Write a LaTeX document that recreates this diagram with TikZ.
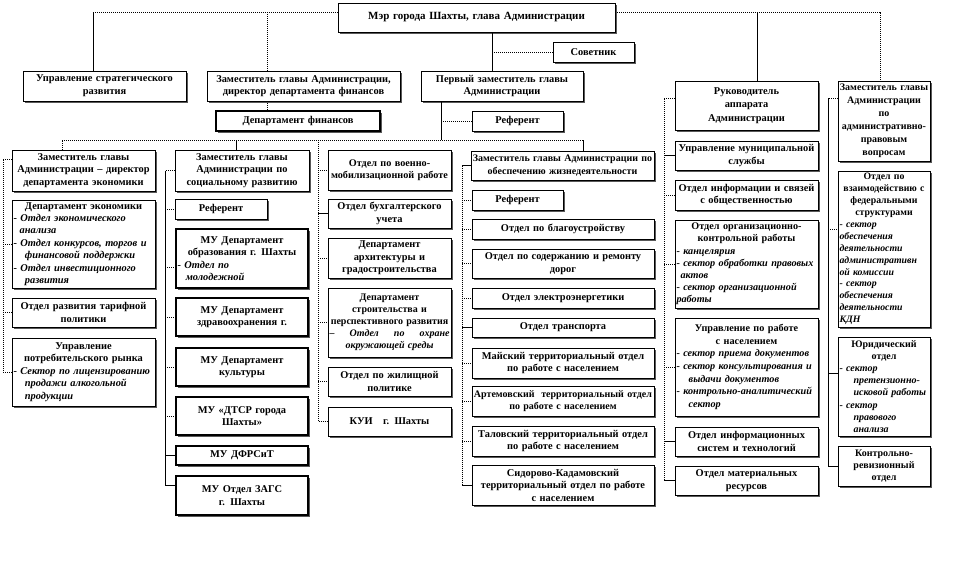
\documentclass[tikz,border=0pt]{standalone}
\usepackage{fontspec}
\setmainfont{Liberation Serif}
\usetikzlibrary{shadows}
\tikzset{
  box/.style={draw=black, line width=0.6pt, fill=white, inner xsep=1.5pt, inner ysep=1pt,
    align=center, font=\bfseries\fontsize{10.4}{12.5}\selectfont,
    drop shadow={shadow xshift=1.6pt, shadow yshift=-1.6pt, fill=black!65, opacity=1}},
  thickbox/.style={line width=2.4pt},
  narrow/.style={font=\bfseries\fontsize{10}{12}\selectfont},
  dl/.style={line width=0.8pt, dash pattern=on 1pt off 1pt},
  sl/.style={line width=0.8pt}
}
\newcommand{\obox}[7][]{%
  \pgfmathsetmacro{\obcx}{(#3+#5)/2}%
  \pgfmathsetmacro{\obcy}{(#4+#6)/2}%
  \pgfmathsetmacro{\obww}{#5-#3}%
  \pgfmathsetmacro{\obhh}{#6-#4}%
  \pgfmathsetmacro{\obtw}{#5-#3-3}%
  \node[box,minimum width=\obww pt,minimum height=\obhh pt,text width=\obtw pt,#1] (#2) at (\obcx,\obcy) {#7};}
\newcommand{\cl}[1]{\hspace*{\fill}#1\hspace*{\fill}\mbox{}}
\begin{document}
\begin{tikzpicture}[x=1pt,y=-1pt]
\fill[white] (0,0) rectangle (955,573);
\useasboundingbox (0,0) rectangle (955,573);

% top level
\obox[font=\bfseries\fontsize{11}{13}\selectfont]{mayor}{338}{3}{615}{32}{Мэр города Шахты, глава Администрации}
\obox{sov}{553}{42}{634}{62}{Советник}
\obox[font=\bfseries\fontsize{10.4}{13}\selectfont]{usr}{23}{71}{186}{101}{Управление стратегического\\развития}
\obox{zfin}{207}{71}{400}{101}{Заместитель главы Администрации,\\директор департамента финансов}
\obox{first}{421}{71}{583}{101}{Первый заместитель главы\\Администрации}
\obox[thickbox]{dfin}{216}{111}{380}{131}{Департамент финансов}
\obox{ref1}{472}{111}{563}{131}{Референт}
\obox[font=\bfseries\fontsize{10.4}{13.5}\selectfont]{ruk}{675}{81}{818}{130}{Руководитель\\аппарата\\Администрации}
\obox[narrow,font=\bfseries\fontsize{10}{13}\selectfont]{zapr}{838}{81}{930}{161}{Заместитель главы\\Администрации\\по\\административно-\\правовым\\вопросам}

% column 1
\obox{zecon}{12}{150}{155}{191}{Заместитель главы\\Администрации – директор\\департамента экономики}
\obox[align=left,font=\bfseries\fontsize{10.4}{12.4}\selectfont]{decon}{12}{200}{155}{288}{\cl{Департамент экономики}\\\itshape - Отдел экономического\\\hspace*{0.6em}анализа\\- Отдел конкурсов, торгов и\\\hspace*{1.1em}финансовой поддержки\\- Отдел инвестиционного\\\hspace*{1.1em}развития}
\obox{tarif}{12}{298}{155}{327}{Отдел развития тарифной\\политики}
\obox[align=left]{potr}{12}{338}{155}{406}{\cl{Управление}\\\cl{потребительского рынка}\\\itshape - Сектор по лицензированию\\\hspace*{1.1em}продажи алкогольной\\\hspace*{1.1em}продукции}

% column 2
\obox{zsoc}{175}{150}{309}{191}{Заместитель главы\\Администрации по\\социальному развитию}
\obox{ref2}{175}{199}{267}{219}{Референт}
\obox[thickbox,align=left]{muobr}{176}{229}{308}{288}{\cl{МУ Департамент}\\\cl{образования г. Шахты}\\\itshape - Отдел по\\\hspace*{0.8em}молодежной}
\obox[thickbox]{muzdr}{176}{298}{308}{336}{МУ Департамент\\здравоохранения г.}
\obox[thickbox]{mukul}{176}{348}{308}{386}{МУ Департамент\\культуры}
\obox[thickbox]{mudtsr}{176}{397}{308}{435}{МУ «ДТСР города\\Шахты»}
\obox[thickbox]{mudfrs}{176}{446}{308}{465}{МУ ДФРСиТ}
\obox[thickbox]{muzags}{176}{476}{308}{515}{МУ Отдел ЗАГС\\г. Шахты}

% column 3
\obox[font=\bfseries\fontsize{10.2}{12.5}\selectfont]{voen}{328}{150}{451}{190}{Отдел по военно-\\мобилизационной работе}
\obox{buh}{328}{199}{451}{228}{Отдел бухгалтерского\\учета}
\obox{arch}{328}{238}{451}{278}{Департамент\\архитектуры и\\градостроительства}
\obox[font=\bfseries\fontsize{10}{12}\selectfont]{stroi}{328}{288}{451}{357}{Департамент\\строительства и\\перспективного развития\\\itshape –\hspace*{\fill}Отдел\hspace*{\fill}по\hspace*{\fill}охране\\окружающей среды}
\obox{zhil}{328}{367}{451}{396}{Отдел по жилищной\\политике}
\obox{kui}{328}{407}{451}{436}{КУИ~~~г. Шахты}

% column 4
\obox[font=\bfseries\fontsize{10}{12.5}\selectfont]{zobesp}{471}{151}{654}{180}{Заместитель главы Администрации по\\обеспечению жизнедеятельности}
\obox{ref3}{472}{190}{563}{210}{Референт}
\obox{blag}{472}{219}{654}{239}{Отдел по благоустройству}
\obox{dorog}{472}{249}{654}{278}{Отдел по содержанию и ремонту\\дорог}
\obox{elek}{472}{288}{654}{308}{Отдел электроэнергетики}
\obox{trans}{472}{318}{654}{337}{Отдел транспорта}
\obox{maisk}{472}{348}{654}{378}{Майский территориальный отдел\\по работе с населением}
\obox[font=\bfseries\fontsize{10}{12.5}\selectfont]{artem}{472}{386}{654}{416}{Артемовский~ территориальный отдел\\по работе с населением}
\obox{talov}{472}{426}{654}{456}{Таловский территориальный отдел\\по работе с населением}
\obox{sidor}{472}{465}{654}{505}{Сидорово-Кадамовский\\территориальный отдел по работе\\с населением}

% column 5
\obox{mun}{675}{141}{818}{170}{Управление муниципальной\\службы}
\obox{info}{675}{180}{818}{210}{Отдел информации и связей\\с общественностью}
\obox[align=left,font=\bfseries\fontsize{10.2}{12.2}\selectfont]{org}{675}{220}{818}{308}{\cl{Отдел организационно-}\\\cl{контрольной работы}\\\itshape - канцелярия\\- сектор обработки правовых\\\hspace*{0.4em}актов\\- сектор организационной\\работы}
\obox[align=left,font=\bfseries\fontsize{10.2}{12.6}\selectfont]{nasel}{675}{318}{818}{416}{\cl{Управление по работе}\\\cl{с населением}\\\itshape - сектор приема документов\\- сектор консультирования и\\\hspace*{1.2em}выдачи документов\\- контрольно-аналитический\\\hspace*{1.2em}сектор}
\obox{ist}{675}{427}{818}{456}{Отдел информационных\\систем и технологий}
\obox{mat}{675}{466}{818}{495}{Отдел материальных\\ресурсов}

% column 6
\obox[narrow,align=left,font=\bfseries\fontsize{9.8}{11.9}\selectfont]{vzaim}{838}{171}{930}{327}{\cl{Отдел по}\\\cl{взаимодействию с}\\\cl{федеральными}\\\cl{структурами}\\\itshape - сектор\\обеспечения\\деятельности\\административн\\ой комиссии\\- сектор\\обеспечения\\деятельности\\КДН}
\obox[narrow,align=left,font=\bfseries\fontsize{10}{12.2}\selectfont]{yur}{838}{337}{930}{436}{\cl{Юридический}\\\cl{отдел}\\\itshape - сектор\\\hspace*{1.4em}претензионно-\\\hspace*{1.4em}исковой работы\\- сектор\\\hspace*{1.4em}правового\\\hspace*{1.4em}анализа}
\obox[narrow]{krev}{838}{446}{930}{486}{Контрольно-\\ревизионный\\отдел}

% ---- top connectors
\coordinate (mw) at ([yshift=5.5pt]mayor.west);
\coordinate (me) at ([yshift=5.5pt]mayor.east);
\coordinate (v1) at (93,0);
\coordinate (v2) at (267,0);
\coordinate (v3) at (757,0);
\coordinate (v4) at (880,0);
\coordinate (v5) at (492,0);
\draw[dl] (mw) -- (v1 |- mw);
\draw[sl] (v1 |- mw) -- (v1 |- usr.north);
\draw[dl] (v2 |- mw) -- (v2 |- zfin.north);
\draw[dl] (me) -- (v4 |- me) -- (v4 |- zapr.north);
\draw[sl] (v3 |- me) -- (v3 |- ruk.north);
\draw[sl] (v5 |- mayor.south) -- (v5 |- first.north);
\draw[dl] (v5 |- sov.west) -- (sov.west);
\draw[dl] (v2 |- zfin.south) -- (v2 |- dfin.north);
\coordinate (v6) at (441,140);
\draw[sl] (v6 |- first.south) -- (v6);
\draw[dl] (v6 |- ref1.west) -- (ref1.west);
\coordinate (b1) at (62,140);
\coordinate (b2) at (583,140);
\coordinate (v7) at (236,140);
\draw[dl] (b1 |- zecon.north) -- (b1) -- (b2);
\draw[sl] (b2) -- (b2 |- zobesp.north);
\draw[sl] (v7) -- (v7 |- zsoc.north);

% ---- spine 1
\coordinate (s1) at (3,0);
\coordinate (t1) at ([yshift=11.5pt]zecon.west);
\draw[dl] (t1) -- (s1 |- t1) -- (s1 |- potr.west) -- (potr.west);
\draw[dl] (s1 |- decon.west) -- (decon.west);
\draw[dl] (s1 |- tarif.west) -- (tarif.west);

% ---- spine 2
\coordinate (s2) at (165,0);
\coordinate (t2) at ([yshift=10.5pt]muzags.west);
\coordinate (t2b) at ([yshift=-8.5pt]muobr.west);
\draw[dl] (zsoc.west) -- (s2 |- zsoc.west);
\draw[sl] (s2 |- zsoc.west) -- (s2 |- t2) -- (t2);
\foreach \n in {ref2,muzdr,mukul,mudtsr} \draw[dl] (s2 |- \n.west) -- (\n.west);
\draw[dl] (s2 |- t2b) -- (t2b);
\draw[sl] (s2 |- mudfrs.west) -- (mudfrs.west);

% ---- spine 3
\coordinate (s3) at (318,140);
\draw[dl] (s3) -- (s3 |- kui.west) -- (kui.west);
\foreach \n in {voen,arch,stroi,zhil} \draw[dl] (s3 |- \n.west) -- (\n.west);
\draw[sl] (s3 |- buh.west) -- (buh.west);

% ---- spine 4
\coordinate (s4) at (462,0);
\draw[sl] (zobesp.west) -- (s4 |- zobesp.west);
\draw[dl] (s4 |- zobesp.west) -- (s4 |- sidor.west);
\draw[sl] (s4 |- sidor.west) -- (sidor.west);
\foreach \n in {ref3,blag,dorog,elek,maisk,artem,talov} \draw[dl] (s4 |- \n.west) -- (\n.west);
\draw[sl] (s4 |- trans.west) -- (trans.west);

% ---- spine 5
\coordinate (s5) at (664,0);
\coordinate (t5) at ([yshift=7.5pt]ruk.west);
\draw[dl] (t5) -- (s5 |- t5) -- (s5 |- mat.west);
\draw[sl] (s5 |- mat.west) -- (mat.west);
\foreach \n in {info,org,nasel} \draw[dl] (s5 |- \n.west) -- (\n.west);
\foreach \n in {mun,ist} \draw[sl] (s5 |- \n.west) -- (\n.west);

% ---- spine 6
\coordinate (s6) at (828,0);
\coordinate (t6) at ([yshift=23pt]zapr.west);
\coordinate (t6b) at ([yshift=20pt]vzaim.west);
\coordinate (t6c) at ([yshift=13.5pt]yur.west);
\draw[dl] (t6) -- (s6 |- t6);
\draw[sl] (s6 |- t6) -- (s6 |- krev.west) -- (krev.west);
\draw[dl] (s6 |- t6b) -- (t6b);
\draw[sl] (s6 |- t6c) -- (t6c);
\end{tikzpicture}
\end{document}
